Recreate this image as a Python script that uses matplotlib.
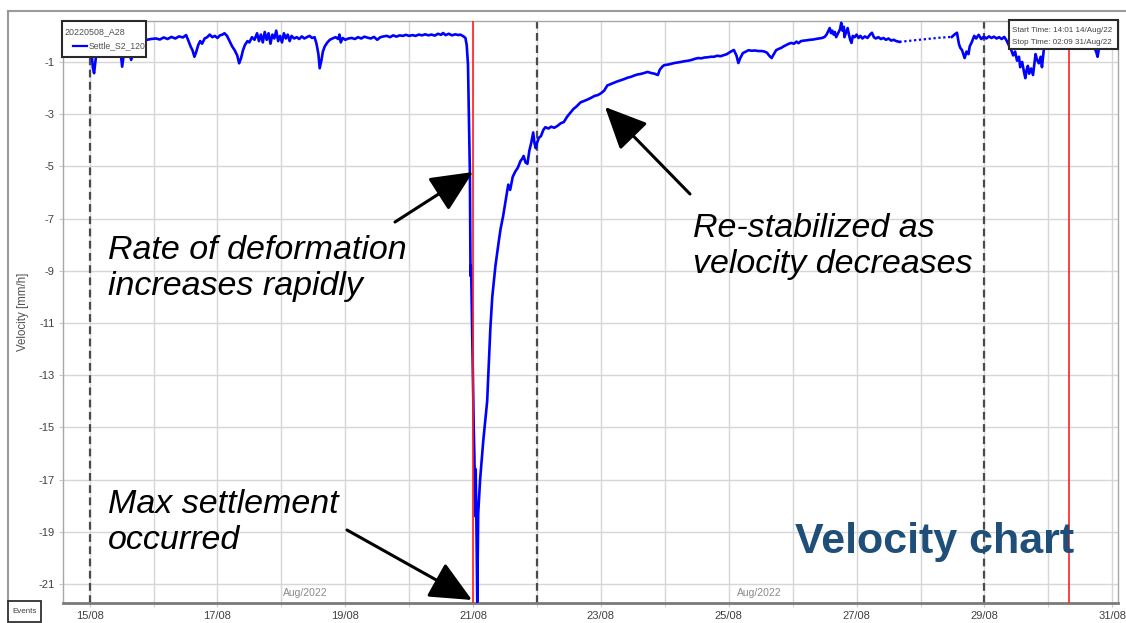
import matplotlib
matplotlib.use('Agg')
import matplotlib.pyplot as plt
import matplotlib.dates as mdates
from matplotlib.patches import Rectangle
from matplotlib.lines import Line2D
import numpy as np

W, H = 1126, 623
FONT = 'Liberation Sans'

# ---------------- data ----------------
group_name = "20220508_A28"
series_name = "Settle_S2_120"
start_time = "Start Time: 14:01 14/Aug/22"
stop_time = "Stop Time: 02:09 31/Aug/22"
x_start = "2022-08-14T14:01"
x_stop = "2022-08-31T02:09"

# fractional day of August, velocity [mm/h]
day_main = [
    14.58, 14.65, 14.75, 14.85, 14.95, 15.02, 15.05, 15.07, 15.09, 15.12, 15.20, 15.30, 15.40, 15.48, 15.51,
    15.54, 15.60, 15.65, 15.68, 15.72, 15.80, 15.90, 15.96, 16.04, 16.10, 16.16, 16.22, 16.28, 16.34, 16.40,
    16.46, 16.51, 16.54, 16.58, 16.61, 16.64, 16.67, 16.70, 16.73, 16.76, 16.80, 16.84, 16.88, 16.92, 16.96,
    17.00, 17.04, 17.08, 17.11, 17.15, 17.19, 17.23, 17.27, 17.31, 17.34, 17.37, 17.40, 17.43, 17.47, 17.50,
    17.54, 17.58, 17.62, 17.65, 17.68, 17.71, 17.74, 17.77, 17.80, 17.83, 17.86, 17.89, 17.92, 17.95, 17.98,
    18.01, 18.04, 18.07, 18.10, 18.13, 18.16, 18.20, 18.24, 18.28, 18.32, 18.36, 18.40, 18.44, 18.48, 18.52,
    18.55, 18.58, 18.60, 18.63, 18.65, 18.68, 18.72, 18.76, 18.80, 18.85, 18.89, 18.91, 18.93, 18.96, 19.00,
    19.05, 19.10, 19.15, 19.20, 19.25, 19.30, 19.35, 19.40, 19.45, 19.50, 19.55, 19.60, 19.65, 19.70, 19.75,
    19.80, 19.85, 19.90, 19.95, 20.00, 20.05, 20.10, 20.15, 20.20, 20.25, 20.30, 20.35, 20.40, 20.45, 20.50,
    20.53, 20.57, 20.62, 20.67, 20.72, 20.77, 20.80, 20.85, 20.88, 20.90, 20.92, 20.93, 20.94, 20.95, 20.955,
    20.96, 20.965, 20.97, 20.99, 21.01, 21.02, 21.033, 21.04, 21.05, 21.065, 21.08, 21.11, 21.16, 21.22, 21.27,
    21.30, 21.35, 21.40, 21.43, 21.47, 21.51, 21.55, 21.58, 21.62, 21.66, 21.70, 21.74, 21.77, 21.79, 21.82,
    21.85, 21.88, 21.91, 21.94, 21.96, 21.98, 22.00, 22.03, 22.06, 22.10, 22.13, 22.18, 22.22, 22.27, 22.32,
    22.37, 22.42, 22.47, 22.52, 22.57, 22.62, 22.68, 22.73, 22.78, 22.84, 22.90, 22.95, 23.00, 23.05, 23.10,
    23.15, 23.20, 23.25, 23.31, 23.36, 23.42, 23.47, 23.52, 23.57, 23.62, 23.68, 23.73, 23.78, 23.84, 23.89,
    23.92, 23.96, 23.99, 24.05, 24.10, 24.15, 24.20, 24.25, 24.31, 24.37, 24.42, 24.47, 24.52, 24.57, 24.62,
    24.67, 24.72, 24.77, 24.82, 24.87, 24.93, 24.97, 25.02, 25.08, 25.12, 25.15, 25.18, 25.22, 25.27, 25.31,
    25.36, 25.41, 25.46, 25.51, 25.56, 25.60, 25.63, 25.67, 25.70, 25.74, 25.78, 25.82, 25.86, 25.90, 25.94,
    25.98, 26.02, 26.06, 26.09, 26.13, 26.18, 26.22, 26.27, 26.32, 26.36, 26.41, 26.46, 26.50, 26.53, 26.56,
    26.58, 26.60, 26.62, 26.64, 26.66, 26.68, 26.71, 26.74, 26.76, 26.78, 26.80, 26.81, 26.83, 26.86, 26.88,
    26.90, 26.92, 26.94, 26.97, 27.00, 27.03, 27.06, 27.09, 27.13, 27.17, 27.21, 27.24, 27.27, 27.30, 27.34,
    27.38, 27.42, 27.46, 27.50, 27.54, 27.58, 27.62, 27.67,
]
vel_main = [
    -0.20, -0.10, -0.15, -0.05, -0.12, -0.30, -1.20, -1.43, -1.00, -0.40, -0.15, -0.10, -0.20, -0.50, -1.18,
    -0.60, -0.45, -0.92, -0.70, -0.20, -0.10, -0.15, -0.12, -0.10, -0.14, -0.06, -0.12, -0.04, -0.10, -0.02,
    -0.06, 0.03, -0.15, -0.40, -0.55, -0.80, -0.60, -0.35, -0.20, -0.30, -0.10, -0.05, 0.05, -0.05, 0.00,
    -0.08, 0.02, 0.05, 0.10, 0.00, -0.20, -0.40, -0.55, -0.75, -1.05, -0.85, -0.55, -0.35, -0.20, -0.25,
    -0.05, -0.15, 0.10, -0.20, 0.05, -0.25, 0.15, -0.15, 0.10, -0.30, 0.05, -0.10, 0.20, -0.20, 0.00,
    -0.25, 0.10, -0.10, 0.05, -0.20, 0.00, -0.10, -0.05, -0.12, -0.02, -0.10, -0.05, 0.00, -0.08, -0.05,
    -0.30, -0.70, -1.24, -0.90, -0.60, -0.40, -0.25, -0.15, -0.10, -0.05, -0.12, 0.05, -0.25, -0.08, -0.15,
    -0.10, -0.08, -0.12, -0.05, -0.10, -0.03, -0.07, -0.10, -0.04, -0.15, -0.05, -0.02, 0.00, -0.05, 0.02,
    -0.03, 0.02, 0.00, 0.04, 0.00, 0.03, 0.00, 0.05, 0.02, 0.06, 0.02, 0.05, 0.01, 0.08, 0.04,
    0.11, 0.03, 0.08, 0.02, 0.06, 0.03, 0.05, -0.02, -0.08, -0.35, -1.10, -2.50, -4.00, -5.30, -7.00,
    -9.20, -8.80, -9.00, -12.0, -15.0, -16.1, -18.4, -16.6, -18.3, -21.7, -18.3, -17.0, -15.5, -14.0, -11.2,
    -10.0, -8.80, -7.90, -7.40, -6.90, -6.30, -5.70, -5.90, -5.40, -5.20, -5.05, -4.80, -4.70, -4.60, -4.85,
    -4.90, -4.40, -4.10, -3.70, -4.10, -4.30, -4.10, -3.90, -3.85, -3.60, -3.50, -3.55, -3.48, -3.52, -3.45,
    -3.35, -3.30, -3.10, -2.95, -2.80, -2.70, -2.55, -2.50, -2.45, -2.38, -2.30, -2.27, -2.20, -2.10, -1.90,
    -1.85, -1.80, -1.75, -1.70, -1.66, -1.60, -1.57, -1.52, -1.48, -1.46, -1.42, -1.38, -1.42, -1.45, -1.50,
    -1.30, -1.18, -1.12, -1.10, -1.07, -1.04, -1.02, -1.00, -0.97, -0.95, -0.92, -0.88, -0.85, -0.86, -0.83,
    -0.82, -0.80, -0.80, -0.76, -0.78, -0.73, -0.70, -0.62, -0.54, -0.75, -1.04, -0.85, -0.66, -0.60, -0.55,
    -0.57, -0.56, -0.58, -0.58, -0.60, -0.65, -0.75, -0.85, -0.72, -0.55, -0.50, -0.46, -0.40, -0.35, -0.30,
    -0.27, -0.30, -0.22, -0.28, -0.20, -0.18, -0.17, -0.15, -0.14, -0.12, -0.10, -0.08, -0.04, 0.05, 0.20,
    0.30, 0.10, 0.20, 0.05, 0.15, -0.05, 0.10, 0.25, 0.50, 0.20, 0.35, -0.05, 0.10, 0.30, 0.05,
    -0.15, -0.27, 0.00, -0.05, 0.05, -0.08, 0.00, -0.10, -0.02, -0.08, 0.05, 0.12, -0.05, -0.10, -0.05,
    -0.12, -0.08, -0.15, -0.10, -0.18, -0.15, -0.20, -0.23,
]
# sparse (dotted) stretch
day_gap = [27.67, 27.90, 28.10, 28.30, 28.49]
vel_gap = [-0.23, -0.17, -0.12, -0.07, -0.04]
day_end = [
    28.49, 28.53, 28.57, 28.60, 28.62, 28.65, 28.69, 28.72, 28.75, 28.77, 28.80, 28.84, 28.87, 28.91, 28.95,
    28.99, 29.03, 29.07, 29.11, 29.15, 29.19, 29.23, 29.27, 29.31, 29.34, 29.38, 29.42, 29.45, 29.48, 29.51,
    29.54, 29.56, 29.59, 29.62, 29.64, 29.66, 29.68, 29.70, 29.73, 29.76, 29.78, 29.80, 29.82, 29.85, 29.88,
    29.90, 29.93, 29.97, 30.05, 30.20, 30.35, 30.50, 30.65, 30.72, 30.75, 30.77, 30.79, 30.82, 30.95, 31.05,
]
vel_end = [
    -0.04, 0.05, 0.12, -0.30, -0.45, -0.55, -0.85, -0.60, -0.70, -0.40, -0.25, 0.00, -0.10, 0.04, -0.12,
    -0.03, -0.10, -0.02, -0.08, -0.03, -0.10, -0.05, -0.12, -0.04, -0.15, -0.35, -0.55, -0.75, -0.60, -0.95,
    -0.80, -1.20, -1.00, -1.40, -1.62, -1.30, -1.15, -1.45, -1.25, -1.50, -1.10, -0.70, -0.90, -1.05, -0.80,
    -1.20, -0.50, -0.30, -0.20, -0.15, -0.20, -0.10, -0.20, -0.45, -0.62, -0.80, -0.50, -0.30, -0.20, -0.25,
]
dashed_days = [15.0, 22.0, 29.0]
red_days = [21.0, 30.32]
y_ticks = list(range(-1, -22, -2))
label_days = [15, 17, 19, 21, 23, 25, 27, 29, 31]
month_label = "Aug/2022"
month_label_days = [18.37, 25.48]

def to_dt(days):
    d = np.asarray(days, dtype=float)
    mins = np.round((d - 1.0) * 24 * 60).astype('int64')
    return np.datetime64('2022-08-01T00:00') + mins.astype('timedelta64[m]')

# ---------------- figure ----------------
fig = plt.figure(figsize=(W / 100, H / 100), dpi=100)
fig.patch.set_facecolor('white')

def fx(px):
    return px / W

def fy(py):
    return 1 - py / H

L, R, T, B = 63, 1118, 21, 603
ax = fig.add_axes([fx(L), fy(B), (R - L) / W, (B - T) / H])

BLUE = '#0000FF'
ax.plot(to_dt(day_main), vel_main, color=BLUE, lw=1.9, zorder=3, solid_joinstyle='round')
ax.plot(to_dt(day_gap), vel_gap, color=BLUE, lw=1.6, ls=(0, (1, 1.2)), zorder=3)
ax.plot(to_dt(day_end), vel_end, color=BLUE, lw=1.9, zorder=3, solid_joinstyle='round')

for d in dashed_days:
    ax.axvline(to_dt([d])[0], color='#4a4a4a', lw=1.6, ls=(0, (3.5, 2)), zorder=2)
for d in red_days:
    ax.axvline(to_dt([d])[0], color='#ff2020', lw=1.2, zorder=4)

ax.set_xlim(np.datetime64(x_start), np.datetime64(x_stop))
ax.set_ylim(-21.73, 0.57)
ax.set_yticks(y_ticks)
ax.set_yticklabels([str(v) for v in y_ticks])

ax.xaxis.set_major_locator(mdates.DayLocator(bymonthday=label_days))
ax.xaxis.set_minor_locator(mdates.DayLocator())
ax.xaxis.set_major_formatter(mdates.DateFormatter('%d/%m'))

ax.grid(True, which='both', color='#d6d6d6', lw=1.0, zorder=0)
ax.set_axisbelow(True)

for lab in ax.get_xticklabels() + ax.get_yticklabels():
    lab.set_fontfamily(FONT)
    lab.set_fontsize(8)
    lab.set_color('#404040')
ax.tick_params(axis='both', which='both', direction='out', length=3, color='#c8c8c8', pad=3)

for s in ['top', 'right', 'left']:
    ax.spines[s].set_color('#a8a8a8')
    ax.spines[s].set_linewidth(1.0)
ax.spines['bottom'].set_color('#7a7a7a')
ax.spines['bottom'].set_linewidth(2.0)

ax.set_ylabel('Velocity [mm/h]', fontfamily=FONT, fontsize=8.3, color='#505050')
ax.yaxis.set_label_coords(-0.0325, 0.5)

for d in month_label_days:
    ax.text(to_dt([d])[0], -21.35, month_label, ha='center', va='center',
            fontfamily=FONT, fontsize=7.5, color='#8a8a8a', zorder=5)

# outer frame
fig.add_artist(Line2D([fx(8), fx(8)], [fy(11), fy(601)], color='#9a9a9a', lw=1.5))
fig.add_artist(Line2D([fx(8), fx(1126)], [fy(11), fy(11)], color='#9a9a9a', lw=1.5))

# events box
fig.add_artist(Rectangle((fx(8), fy(622)), fx(41) - fx(8), fy(601) - fy(622), transform=fig.transFigure,
                         facecolor='white', edgecolor='#303030', lw=1.3, zorder=10))
fig.text(fx(24.5), fy(611.5), 'Events', ha='center', va='center', fontfamily=FONT, fontsize=5.8,
         color='#404040', zorder=11)

# legend box
fig.add_artist(Rectangle((fx(62), fy(57)), fx(146) - fx(62), fy(21) - fy(57), transform=fig.transFigure,
                         facecolor='white', edgecolor='#2a2a2a', lw=1.5, zorder=10))
fig.text(fx(65), fy(32), group_name, ha='left', va='center', fontfamily=FONT, fontsize=6.4,
         color='#505050', zorder=11)
fig.add_artist(Line2D([fx(73), fx(87)], [fy(45.5), fy(45.5)], color=BLUE, lw=1.6, zorder=11))
fig.text(fx(89), fy(45.5), series_name, ha='left', va='center', fontfamily=FONT, fontsize=6.2,
         color='#505050', zorder=11)

# time box
fig.add_artist(Rectangle((fx(1009), fy(49)), fx(1118) - fx(1009), fy(20) - fy(49), transform=fig.transFigure,
                         facecolor='white', edgecolor='#2a2a2a', lw=1.5, zorder=10))
fig.text(fx(1012), fy(30), start_time, ha='left', va='center', fontfamily=FONT, fontsize=5.8,
         color='#404040', zorder=11)
fig.text(fx(1012), fy(42), stop_time, ha='left', va='center', fontfamily=FONT, fontsize=5.8,
         color='#404040', zorder=11)

# annotations (va='baseline' refers to the last line)
note_kw = dict(fontfamily=FONT, style='italic', fontsize=24.5, color='black',
               ha='left', va='baseline', linespacing=1.2, zorder=12)
fig.text(fx(108), fy(295), 'Rate of deformation\nincreases rapidly', **note_kw)
fig.text(fx(693), fy(273), 'Re-stabilized as\nvelocity decreases', **note_kw)
fig.text(fx(108), fy(549), 'Max settlement\noccurred', **note_kw)
fig.text(fx(795), fy(553), 'Velocity chart', fontfamily=FONT, fontweight='bold',
         fontsize=31, color='#1F4E79', ha='left', va='baseline', zorder=12)

arrow_kw = dict(arrowstyle='-|>,head_length=1.3,head_width=0.6', mutation_scale=20, lw=2.2,
                color='black', shrinkA=0, shrinkB=0)
for (x0, y0), (x1, y1) in [((395, 222), (473, 172)), ((690, 194), (605, 107)), ((347, 530), (472, 600))]:
    ax.annotate('', xy=(fx(x1), fy(y1)), xycoords='figure fraction',
                xytext=(fx(x0), fy(y0)), textcoords='figure fraction',
                arrowprops=arrow_kw, annotation_clip=False, zorder=12)

fig.savefig('out.png', dpi=100)
